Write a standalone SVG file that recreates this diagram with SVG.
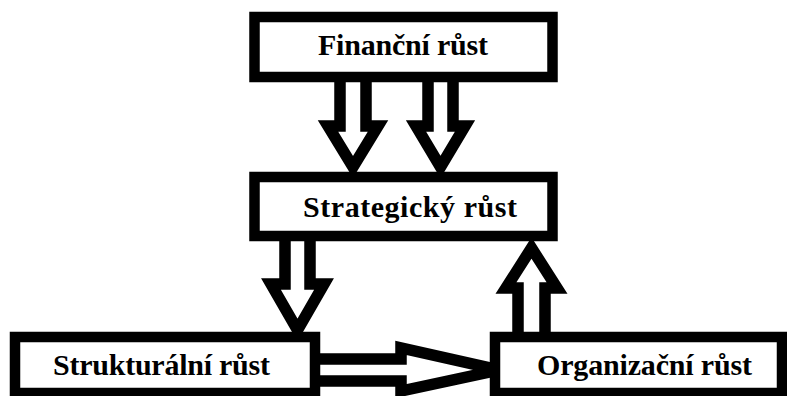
<svg xmlns="http://www.w3.org/2000/svg" width="787" height="396" viewBox="0 0 787 396">
  <style>
    .box { fill: #ffffff; stroke: #000000; stroke-width: 10.5; }
    .arrow { fill: #ffffff; stroke: #000000; stroke-width: 11.5; stroke-linejoin: miter; stroke-miterlimit: 10; }
    .label { font-family: "Liberation Serif", "Times New Roman", serif; font-weight: bold; font-size: 30px; fill: #000000; }
  </style>
  <rect width="787" height="396" fill="#ffffff"/>

  <!-- block arrows between the growth stages -->
  <g id="connectors">
    <path class="arrow" d="M340,76 V126 H328 L353,167 L378,126 H366 V76"/>
    <path class="arrow" d="M428,76 V126 H416 L440.5,167 L465,126 H453 V76"/>
    <path class="arrow" d="M285,236 V284 H271 L297.5,330 L324,284 H310 V236"/>
    <path class="arrow" d="M518,337 V288 H506 L531.5,248 L557,288 H545 V337"/>
    <path class="arrow" d="M315,359 H401 V348 L499,370 L401,391 V381 H315"/>
  </g>

  <g id="financni">
    <rect class="box" x="254.5" y="17" width="298" height="60"/>
    <text class="label" x="318" y="55" textLength="170">Finanční růst</text>
  </g>

  <g id="strategicky">
    <rect class="box" x="254.5" y="177" width="298" height="59"/>
    <text class="label" x="303" y="217" textLength="214">Strategický růst</text>
  </g>

  <g id="strukturalni">
    <rect class="box" x="15" y="337" width="300" height="56"/>
    <text class="label" x="53" y="375" textLength="217">Strukturální růst</text>
  </g>

  <g id="organizacni">
    <rect class="box" x="495" y="337" width="287" height="56"/>
    <text class="label" x="537" y="375" textLength="215">Organizační růst</text>
  </g>
</svg>
